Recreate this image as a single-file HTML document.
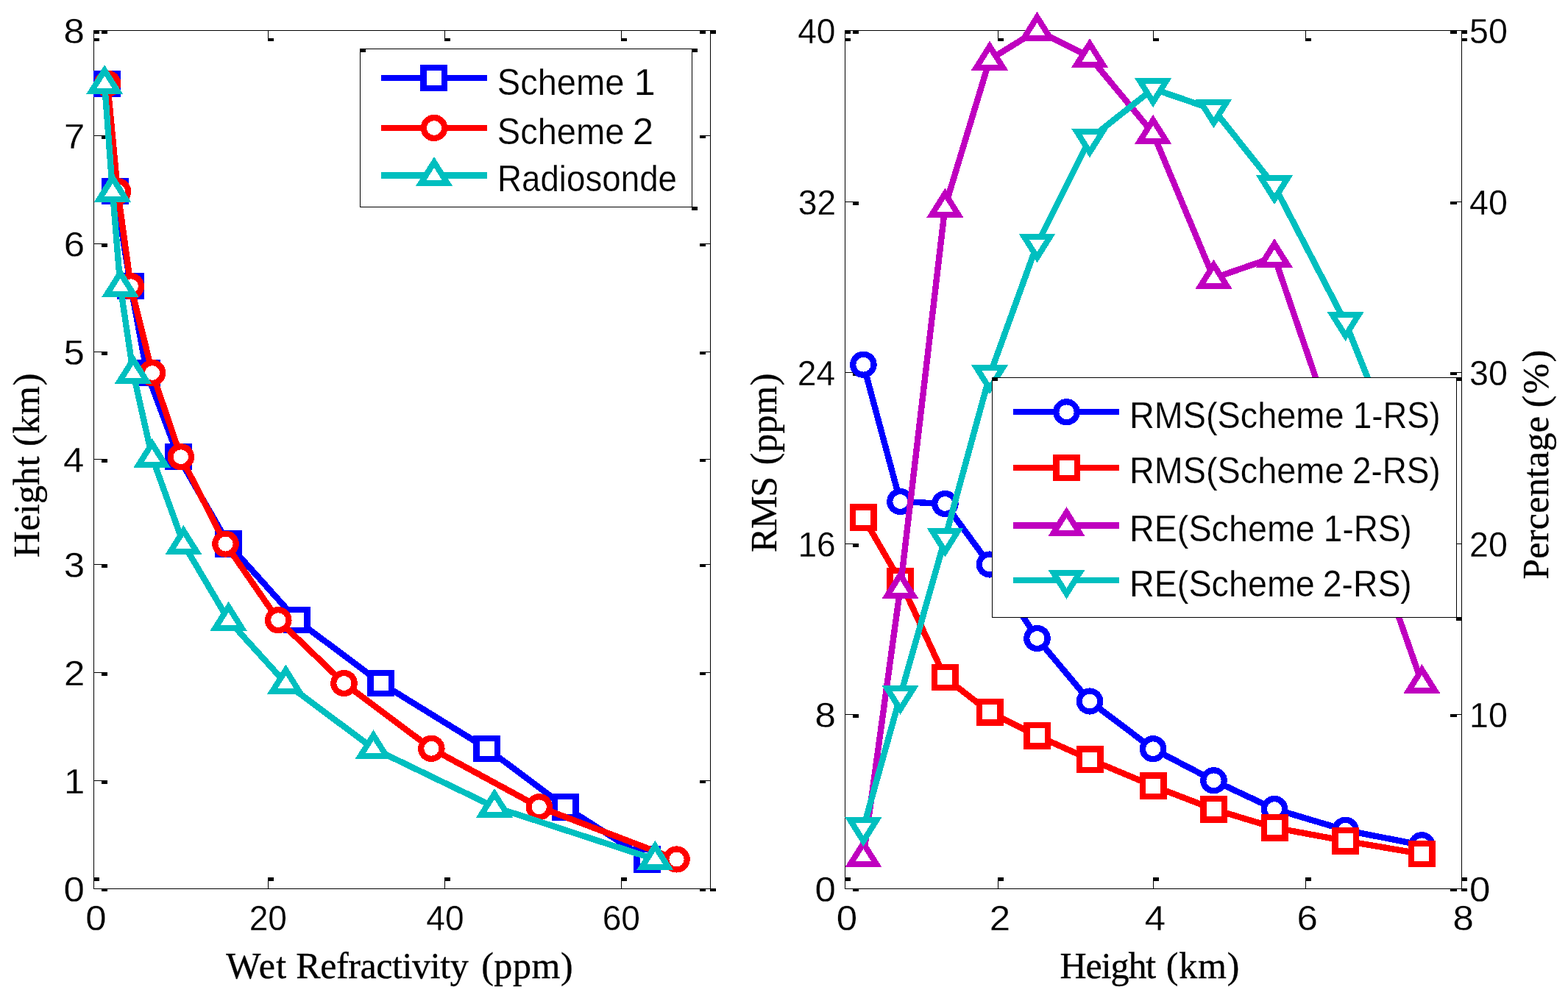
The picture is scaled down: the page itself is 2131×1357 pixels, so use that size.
<!DOCTYPE html>
<html lang="en">
<head>
<meta charset="utf-8">
<title>Wet refractivity profiles and RMS / relative error versus height</title>
<style>
html,body{margin:0;padding:0;background:#fff;}
body{width:2131px;height:1357px;overflow:hidden;}
svg{display:block;}
text{fill:#000;white-space:pre;}
text.s{font-family:"Liberation Sans",Arial,Helvetica,sans-serif;stroke:#fff;stroke-width:0.25px;}
text.r{font-family:"Liberation Serif","Times New Roman",Times,serif;stroke:#000;stroke-width:0.35px;}
</style>
</head>
<body>
<svg width="2131" height="1357" viewBox="0 0 2131 1357" shape-rendering="crispEdges" role="img" aria-label="Two charts: wet refractivity versus height, and RMS and relative error versus height">
<rect x="0" y="0" width="2131" height="1357" fill="#fff"/>
<g id="left-plot">
<g class="axes">
<rect x="127" y="41" width="839" height="1" fill="#000"/>
<rect x="127" y="1208" width="839" height="1" fill="#000"/>
<rect x="127" y="41" width="1" height="1168" fill="#000"/>
<rect x="965" y="41" width="1" height="1168" fill="#000"/>
<rect x="128" y="41" width="10" height="1" fill="#000"/>
<rect x="138" y="41" width="8" height="4.8" fill="#000"/>
<rect x="958" y="41" width="7" height="1" fill="#000"/>
<rect x="951" y="41" width="8" height="5" fill="#000"/>
<rect x="128" y="184" width="10" height="1" fill="#000"/>
<rect x="138" y="184" width="8" height="4.8" fill="#000"/>
<rect x="958" y="184" width="7" height="1" fill="#000"/>
<rect x="951" y="184" width="8" height="4" fill="#000"/>
<rect x="128" y="331" width="10" height="1" fill="#000"/>
<rect x="138" y="331" width="8" height="4.8" fill="#000"/>
<rect x="958" y="331" width="7" height="1" fill="#000"/>
<rect x="951" y="331" width="8" height="4" fill="#000"/>
<rect x="128" y="478" width="10" height="1" fill="#000"/>
<rect x="138" y="478" width="8" height="4.8" fill="#000"/>
<rect x="958" y="478" width="7" height="1" fill="#000"/>
<rect x="951" y="478" width="8" height="4" fill="#000"/>
<rect x="128" y="624" width="10" height="1" fill="#000"/>
<rect x="138" y="624" width="8" height="4.8" fill="#000"/>
<rect x="958" y="624" width="7" height="1" fill="#000"/>
<rect x="951" y="624" width="8" height="4" fill="#000"/>
<rect x="128" y="767" width="10" height="1" fill="#000"/>
<rect x="138" y="767" width="8" height="4.8" fill="#000"/>
<rect x="958" y="767" width="7" height="1" fill="#000"/>
<rect x="951" y="767" width="8" height="4" fill="#000"/>
<rect x="128" y="914" width="10" height="1" fill="#000"/>
<rect x="138" y="914" width="8" height="4.8" fill="#000"/>
<rect x="958" y="914" width="7" height="1" fill="#000"/>
<rect x="951" y="914" width="8" height="4" fill="#000"/>
<rect x="128" y="1061" width="10" height="1" fill="#000"/>
<rect x="138" y="1061" width="8" height="4.8" fill="#000"/>
<rect x="958" y="1061" width="7" height="1" fill="#000"/>
<rect x="951" y="1061" width="8" height="4" fill="#000"/>
<rect x="128" y="1208" width="10" height="1" fill="#000"/>
<rect x="138" y="1208" width="8" height="4" fill="#000"/>
<rect x="958" y="1208" width="7" height="1" fill="#000"/>
<rect x="951" y="1208" width="8" height="4" fill="#000"/>
<rect x="127" y="1197.5" width="1" height="10.5" fill="#000"/>
<rect x="127" y="1193" width="8" height="4.6" fill="#000"/>
<rect x="127" y="42" width="1" height="10.5" fill="#000"/>
<rect x="127" y="52" width="8" height="3.8" fill="#000"/>
<rect x="364" y="1197.5" width="1" height="10.5" fill="#000"/>
<rect x="364" y="1193" width="8" height="4.6" fill="#000"/>
<rect x="364" y="42" width="1" height="10.5" fill="#000"/>
<rect x="364" y="52" width="8" height="3.8" fill="#000"/>
<rect x="604" y="1197.5" width="1" height="10.5" fill="#000"/>
<rect x="604" y="1193" width="8" height="4.6" fill="#000"/>
<rect x="604" y="42" width="1" height="10.5" fill="#000"/>
<rect x="604" y="52" width="8" height="3.8" fill="#000"/>
<rect x="844" y="1197.5" width="1" height="10.5" fill="#000"/>
<rect x="844" y="1193" width="8" height="4.6" fill="#000"/>
<rect x="844" y="42" width="1" height="10.5" fill="#000"/>
<rect x="844" y="52" width="8" height="3.8" fill="#000"/>
<rect x="127" y="41" width="8" height="5" fill="#000"/>
<rect x="965" y="41" width="8" height="5" fill="#000"/>
<rect x="965" y="1208" width="8" height="4" fill="#000"/>
</g>
<g class="series" aria-label="Scheme 1">
<polyline points="145.5,113.7 156.5,260.1 177.8,389.2 199.6,507 242.5,621.2 310.4,739.6 403.4,843.2 517.9,929 661.8,1017.8 768.3,1097.3 879.5,1168.5" fill="none" stroke="#0000ff" stroke-width="8.4" stroke-linejoin="round"/>
<rect x="127" y="95.5" width="37" height="36.4" fill="#0000ff"/><rect x="135.5" y="103.7" width="20" height="20" fill="#fff"/>
<rect x="138" y="241.9" width="37" height="36.4" fill="#0000ff"/><rect x="146.5" y="250.1" width="20" height="20" fill="#fff"/>
<rect x="159.3" y="371" width="37" height="36.4" fill="#0000ff"/><rect x="167.8" y="379.2" width="20" height="20" fill="#fff"/>
<rect x="181.1" y="488.8" width="37" height="36.4" fill="#0000ff"/><rect x="189.6" y="497" width="20" height="20" fill="#fff"/>
<rect x="224" y="603" width="37" height="36.4" fill="#0000ff"/><rect x="232.5" y="611.2" width="20" height="20" fill="#fff"/>
<rect x="291.9" y="721.4" width="37" height="36.4" fill="#0000ff"/><rect x="300.4" y="729.6" width="20" height="20" fill="#fff"/>
<rect x="384.9" y="825" width="37" height="36.4" fill="#0000ff"/><rect x="393.4" y="833.2" width="20" height="20" fill="#fff"/>
<rect x="499.4" y="910.8" width="37" height="36.4" fill="#0000ff"/><rect x="507.9" y="919" width="20" height="20" fill="#fff"/>
<rect x="643.3" y="999.6" width="37" height="36.4" fill="#0000ff"/><rect x="651.8" y="1007.8" width="20" height="20" fill="#fff"/>
<rect x="749.8" y="1079.1" width="37" height="36.4" fill="#0000ff"/><rect x="758.3" y="1087.3" width="20" height="20" fill="#fff"/>
<rect x="861" y="1150.3" width="37" height="36.4" fill="#0000ff"/><rect x="869.5" y="1158.5" width="20" height="20" fill="#fff"/>
</g>
<g class="series" aria-label="Scheme 2">
<polyline points="146.1,113.7 160,260.1 177.8,389.2 207,507 245.8,621.2 306.5,739.6 378.25,843.2 467.5,929 586.3,1017.8 732.8,1097.3 919.5,1168.5" fill="none" stroke="#ff0000" stroke-width="8.4" stroke-linejoin="round"/>
<ellipse cx="146.1" cy="113.7" rx="14.2" ry="14" fill="#fff" stroke="#ff0000" stroke-width="8.2"/>
<ellipse cx="160" cy="260.1" rx="14.2" ry="14" fill="#fff" stroke="#ff0000" stroke-width="8.2"/>
<ellipse cx="177.8" cy="389.2" rx="14.2" ry="14" fill="#fff" stroke="#ff0000" stroke-width="8.2"/>
<ellipse cx="207" cy="507" rx="14.2" ry="14" fill="#fff" stroke="#ff0000" stroke-width="8.2"/>
<ellipse cx="245.8" cy="621.2" rx="14.2" ry="14" fill="#fff" stroke="#ff0000" stroke-width="8.2"/>
<ellipse cx="306.5" cy="739.6" rx="14.2" ry="14" fill="#fff" stroke="#ff0000" stroke-width="8.2"/>
<ellipse cx="378.25" cy="843.2" rx="14.2" ry="14" fill="#fff" stroke="#ff0000" stroke-width="8.2"/>
<ellipse cx="467.5" cy="929" rx="14.2" ry="14" fill="#fff" stroke="#ff0000" stroke-width="8.2"/>
<ellipse cx="586.3" cy="1017.8" rx="14.2" ry="14" fill="#fff" stroke="#ff0000" stroke-width="8.2"/>
<ellipse cx="732.8" cy="1097.3" rx="14.2" ry="14" fill="#fff" stroke="#ff0000" stroke-width="8.2"/>
<ellipse cx="919.5" cy="1168.5" rx="14.2" ry="14" fill="#fff" stroke="#ff0000" stroke-width="8.2"/>
</g>
<g class="series" aria-label="Radiosonde">
<polyline points="142.1,113.7 153,260.1 163.5,389.2 181,507 206.6,621.2 249.4,739.6 310.6,843.2 388.4,929 507.5,1017.8 672,1097.3 890.3,1168.5" fill="none" stroke="#00bfbf" stroke-width="8.4" stroke-linejoin="round"/>
<polygon points="142.1,95.7 160,124.2 124.2,124.2" fill="#fff" stroke="#00bfbf" stroke-width="8.0" stroke-miterlimit="10"/>
<polygon points="153,242.1 170.9,270.6 135.1,270.6" fill="#fff" stroke="#00bfbf" stroke-width="8.0" stroke-miterlimit="10"/>
<polygon points="163.5,371.2 181.4,399.7 145.6,399.7" fill="#fff" stroke="#00bfbf" stroke-width="8.0" stroke-miterlimit="10"/>
<polygon points="181,489 198.9,517.5 163.1,517.5" fill="#fff" stroke="#00bfbf" stroke-width="8.0" stroke-miterlimit="10"/>
<polygon points="206.6,603.2 224.5,631.7 188.7,631.7" fill="#fff" stroke="#00bfbf" stroke-width="8.0" stroke-miterlimit="10"/>
<polygon points="249.4,721.6 267.3,750.1 231.5,750.1" fill="#fff" stroke="#00bfbf" stroke-width="8.0" stroke-miterlimit="10"/>
<polygon points="310.6,825.2 328.5,853.7 292.7,853.7" fill="#fff" stroke="#00bfbf" stroke-width="8.0" stroke-miterlimit="10"/>
<polygon points="388.4,911 406.3,939.5 370.5,939.5" fill="#fff" stroke="#00bfbf" stroke-width="8.0" stroke-miterlimit="10"/>
<polygon points="507.5,999.8 525.4,1028.3 489.6,1028.3" fill="#fff" stroke="#00bfbf" stroke-width="8.0" stroke-miterlimit="10"/>
<polygon points="672,1079.3 689.9,1107.8 654.1,1107.8" fill="#fff" stroke="#00bfbf" stroke-width="8.0" stroke-miterlimit="10"/>
<polygon points="890.3,1150.5 908.2,1179 872.4,1179" fill="#fff" stroke="#00bfbf" stroke-width="8.0" stroke-miterlimit="10"/>
</g>
<g class="ticklabels">
<text class="s" font-size="48.6" transform="translate(86.52 59.3) scale(1.0500 1)">8</text>
<text class="s" font-size="48.6" transform="translate(87.03 202.3) scale(1.0500 1)">7</text>
<text class="s" font-size="48.6" transform="translate(86.77 349.3) scale(1.0500 1)">6</text>
<text class="s" font-size="48.6" transform="translate(86.52 496.3) scale(1.0500 1)">5</text>
<text class="s" font-size="48.6" transform="translate(86.01 642.3) scale(1.0500 1)">4</text>
<text class="s" font-size="48.6" transform="translate(86.77 785.3) scale(1.0500 1)">3</text>
<text class="s" font-size="48.6" transform="translate(87.03 932.3) scale(1.0500 1)">2</text>
<text class="s" font-size="48.6" transform="translate(87.03 1079.3) scale(1.0500 1)">1</text>
<text class="s" font-size="48.6" transform="translate(86.52 1226.3) scale(1.0500 1)">0</text>
<text class="s" font-size="48.6" transform="translate(116.34 1265.3) scale(1.0500 1)">0</text>
<text class="s" font-size="48.6" transform="translate(338.63 1265.3) scale(0.9500 1)">20</text>
<text class="s" font-size="48.6" transform="translate(579.21 1265.3) scale(0.9500 1)">40</text>
<text class="s" font-size="48.6" transform="translate(818.63 1265.3) scale(0.9500 1)">60</text>
</g>
<text class="r" font-size="50" y="1330.4"><tspan x="307.3" textLength="81.78" lengthAdjust="spacing">Wet</tspan> <tspan x="402.3" textLength="234.4" lengthAdjust="spacing">Refractivity</tspan> <tspan x="654.15" textLength="124.45" lengthAdjust="spacing">(ppm)</tspan></text>
<text class="r" font-size="50" y="0" transform="translate(52.5 0) rotate(-90)"><tspan x="-758.3" textLength="137.84" lengthAdjust="spacing">Height</tspan> <tspan x="-606.95" textLength="99.25" lengthAdjust="spacing">(km)</tspan></text>
<g class="legend">
<rect x="489" y="66" width="452" height="216" fill="#000"/>
<rect x="490" y="67" width="450" height="214" fill="#fff"/>
<polyline points="518,106 662,106" fill="none" stroke="#0000ff" stroke-width="8.4" stroke-linejoin="round"/>
<rect x="571" y="87.8" width="37" height="36.4" fill="#0000ff"/><rect x="579.5" y="96" width="20" height="20" fill="#fff"/>
<text class="s" font-size="50" y="128.5"><tspan x="675.78" textLength="172.68" lengthAdjust="spacingAndGlyphs">Scheme</tspan> <tspan x="861.56" textLength="29.2" lengthAdjust="spacingAndGlyphs">1</tspan></text>
<polyline points="518,174 662,174" fill="none" stroke="#ff0000" stroke-width="8.4" stroke-linejoin="round"/>
<ellipse cx="590" cy="174" rx="14.2" ry="14" fill="#fff" stroke="#ff0000" stroke-width="8.2"/>
<text class="s" font-size="50" y="195.7"><tspan x="675.78" textLength="172.68" lengthAdjust="spacingAndGlyphs">Scheme</tspan> <tspan x="859.65" textLength="28.36" lengthAdjust="spacingAndGlyphs">2</tspan></text>
<polyline points="518,238.5 662,238.5" fill="none" stroke="#00bfbf" stroke-width="8.4" stroke-linejoin="round"/>
<polygon points="590,220.5 607.9,249 572.1,249" fill="#fff" stroke="#00bfbf" stroke-width="8.0" stroke-miterlimit="10"/>
<text class="s" font-size="50" y="259.6"><tspan x="675.94" textLength="244.1" lengthAdjust="spacingAndGlyphs">Radiosonde</tspan></text>
<rect x="489" y="66" width="8" height="4.5" fill="#000"/>
<rect x="940" y="66" width="8" height="4.5" fill="#000"/>
<rect x="940" y="281" width="8" height="4.8" fill="#000"/>
</g>
</g>
<g id="right-plot">
<g class="axes">
<rect x="1148" y="41" width="839" height="1" fill="#000"/>
<rect x="1148" y="1208" width="839" height="1" fill="#000"/>
<rect x="1148" y="41" width="1" height="1168" fill="#000"/>
<rect x="1986" y="41" width="1" height="1168" fill="#000"/>
<rect x="1149" y="41" width="10" height="1" fill="#000"/>
<rect x="1159" y="41" width="8" height="4.8" fill="#000"/>
<rect x="1979" y="41" width="7" height="1" fill="#000"/>
<rect x="1971" y="41" width="9" height="5" fill="#000"/>
<rect x="1149" y="274" width="10" height="1" fill="#000"/>
<rect x="1159" y="274" width="8" height="4.8" fill="#000"/>
<rect x="1979" y="274" width="7" height="1" fill="#000"/>
<rect x="1971" y="274" width="9" height="4" fill="#000"/>
<rect x="1149" y="506" width="10" height="1" fill="#000"/>
<rect x="1159" y="506" width="8" height="4.8" fill="#000"/>
<rect x="1979" y="506" width="7" height="1" fill="#000"/>
<rect x="1971" y="506" width="9" height="4" fill="#000"/>
<rect x="1149" y="739" width="10" height="1" fill="#000"/>
<rect x="1159" y="739" width="8" height="4.8" fill="#000"/>
<rect x="1979" y="739" width="7" height="1" fill="#000"/>
<rect x="1971" y="739" width="9" height="4" fill="#000"/>
<rect x="1149" y="971" width="10" height="1" fill="#000"/>
<rect x="1159" y="971" width="8" height="4.8" fill="#000"/>
<rect x="1979" y="971" width="7" height="1" fill="#000"/>
<rect x="1971" y="971" width="9" height="4" fill="#000"/>
<rect x="1149" y="1208" width="10" height="1" fill="#000"/>
<rect x="1159" y="1208" width="8" height="4" fill="#000"/>
<rect x="1979" y="1208" width="7" height="1" fill="#000"/>
<rect x="1971" y="1208" width="9" height="4" fill="#000"/>
<rect x="1148" y="1197.5" width="1" height="10.5" fill="#000"/>
<rect x="1148" y="1193" width="8" height="4.6" fill="#000"/>
<rect x="1148" y="42" width="1" height="10.5" fill="#000"/>
<rect x="1148" y="52" width="8" height="3.8" fill="#000"/>
<rect x="1356" y="1197.5" width="1" height="10.5" fill="#000"/>
<rect x="1356" y="1193" width="8" height="4.6" fill="#000"/>
<rect x="1356" y="42" width="1" height="10.5" fill="#000"/>
<rect x="1356" y="52" width="8" height="3.8" fill="#000"/>
<rect x="1567" y="1197.5" width="1" height="10.5" fill="#000"/>
<rect x="1567" y="1193" width="8" height="4.6" fill="#000"/>
<rect x="1567" y="42" width="1" height="10.5" fill="#000"/>
<rect x="1567" y="52" width="8" height="3.8" fill="#000"/>
<rect x="1774" y="1197.5" width="1" height="10.5" fill="#000"/>
<rect x="1774" y="1193" width="8" height="4.6" fill="#000"/>
<rect x="1774" y="42" width="1" height="10.5" fill="#000"/>
<rect x="1774" y="52" width="8" height="3.8" fill="#000"/>
<rect x="1986" y="1197.5" width="1" height="10.5" fill="#000"/>
<rect x="1986" y="1193" width="8" height="4.6" fill="#000"/>
<rect x="1986" y="42" width="1" height="10.5" fill="#000"/>
<rect x="1986" y="52" width="8" height="3.8" fill="#000"/>
<rect x="1148" y="41" width="8" height="5" fill="#000"/>
<rect x="1986" y="41" width="8" height="5" fill="#000"/>
<rect x="1986" y="1208" width="8" height="4" fill="#000"/>
</g>
<g class="series" aria-label="RMS(Scheme 1-RS)">
<polyline points="1173.4,495.75 1223.5,682 1284.4,685 1345,767.5 1409.5,868 1481,953.5 1567.1,1018.25 1649.5,1061.25 1732,1100 1828.6,1128.75 1932.4,1149.25" fill="none" stroke="#0000ff" stroke-width="8.4" stroke-linejoin="round"/>
<ellipse cx="1173.4" cy="495.75" rx="14.2" ry="14" fill="#fff" stroke="#0000ff" stroke-width="8.2"/>
<ellipse cx="1223.5" cy="682" rx="14.2" ry="14" fill="#fff" stroke="#0000ff" stroke-width="8.2"/>
<ellipse cx="1284.4" cy="685" rx="14.2" ry="14" fill="#fff" stroke="#0000ff" stroke-width="8.2"/>
<ellipse cx="1345" cy="767.5" rx="14.2" ry="14" fill="#fff" stroke="#0000ff" stroke-width="8.2"/>
<ellipse cx="1409.5" cy="868" rx="14.2" ry="14" fill="#fff" stroke="#0000ff" stroke-width="8.2"/>
<ellipse cx="1481" cy="953.5" rx="14.2" ry="14" fill="#fff" stroke="#0000ff" stroke-width="8.2"/>
<ellipse cx="1567.1" cy="1018.25" rx="14.2" ry="14" fill="#fff" stroke="#0000ff" stroke-width="8.2"/>
<ellipse cx="1649.5" cy="1061.25" rx="14.2" ry="14" fill="#fff" stroke="#0000ff" stroke-width="8.2"/>
<ellipse cx="1732" cy="1100" rx="14.2" ry="14" fill="#fff" stroke="#0000ff" stroke-width="8.2"/>
<ellipse cx="1828.6" cy="1128.75" rx="14.2" ry="14" fill="#fff" stroke="#0000ff" stroke-width="8.2"/>
<ellipse cx="1932.4" cy="1149.25" rx="14.2" ry="14" fill="#fff" stroke="#0000ff" stroke-width="8.2"/>
</g>
<g class="series" aria-label="RMS(Scheme 2-RS)">
<polyline points="1173.4,703.6 1223.5,790 1284.4,921.25 1345,968.4 1409.5,1000.4 1481,1032.5 1567.1,1068.6 1649.5,1100.4 1732,1125.4 1828.6,1143.4 1932.4,1161.1" fill="none" stroke="#ff0000" stroke-width="8.4" stroke-linejoin="round"/>
<rect x="1154.9" y="685.4" width="37" height="36.4" fill="#ff0000"/><rect x="1163.4" y="693.6" width="20" height="20" fill="#fff"/>
<rect x="1205" y="771.8" width="37" height="36.4" fill="#ff0000"/><rect x="1213.5" y="780" width="20" height="20" fill="#fff"/>
<rect x="1265.9" y="903.05" width="37" height="36.4" fill="#ff0000"/><rect x="1274.4" y="911.25" width="20" height="20" fill="#fff"/>
<rect x="1326.5" y="950.2" width="37" height="36.4" fill="#ff0000"/><rect x="1335" y="958.4" width="20" height="20" fill="#fff"/>
<rect x="1391" y="982.2" width="37" height="36.4" fill="#ff0000"/><rect x="1399.5" y="990.4" width="20" height="20" fill="#fff"/>
<rect x="1462.5" y="1014.3" width="37" height="36.4" fill="#ff0000"/><rect x="1471" y="1022.5" width="20" height="20" fill="#fff"/>
<rect x="1548.6" y="1050.4" width="37" height="36.4" fill="#ff0000"/><rect x="1557.1" y="1058.6" width="20" height="20" fill="#fff"/>
<rect x="1631" y="1082.2" width="37" height="36.4" fill="#ff0000"/><rect x="1639.5" y="1090.4" width="20" height="20" fill="#fff"/>
<rect x="1713.5" y="1107.2" width="37" height="36.4" fill="#ff0000"/><rect x="1722" y="1115.4" width="20" height="20" fill="#fff"/>
<rect x="1810.1" y="1125.2" width="37" height="36.4" fill="#ff0000"/><rect x="1818.6" y="1133.4" width="20" height="20" fill="#fff"/>
<rect x="1913.9" y="1142.9" width="37" height="36.4" fill="#ff0000"/><rect x="1922.4" y="1151.1" width="20" height="20" fill="#fff"/>
</g>
<g class="series" aria-label="RE(Scheme 1-RS)">
<polyline points="1173.4,1164.75 1223.5,799.75 1284.4,281.25 1345,81 1409.5,41.25 1481,77.5 1567.1,181.25 1649.5,378.25 1732,349.5 1828.6,632 1932.4,928.5" fill="none" stroke="#bf00bf" stroke-width="8.4" stroke-linejoin="round"/>
<polygon points="1173.4,1146.75 1191.3,1175.25 1155.5,1175.25" fill="#fff" stroke="#bf00bf" stroke-width="8.0" stroke-miterlimit="10"/>
<polygon points="1223.5,781.75 1241.4,810.25 1205.6,810.25" fill="#fff" stroke="#bf00bf" stroke-width="8.0" stroke-miterlimit="10"/>
<polygon points="1284.4,263.25 1302.3,291.75 1266.5,291.75" fill="#fff" stroke="#bf00bf" stroke-width="8.0" stroke-miterlimit="10"/>
<polygon points="1345,63 1362.9,91.5 1327.1,91.5" fill="#fff" stroke="#bf00bf" stroke-width="8.0" stroke-miterlimit="10"/>
<polygon points="1409.5,23.25 1427.4,51.75 1391.6,51.75" fill="#fff" stroke="#bf00bf" stroke-width="8.0" stroke-miterlimit="10"/>
<polygon points="1481,59.5 1498.9,88 1463.1,88" fill="#fff" stroke="#bf00bf" stroke-width="8.0" stroke-miterlimit="10"/>
<polygon points="1567.1,163.25 1585,191.75 1549.2,191.75" fill="#fff" stroke="#bf00bf" stroke-width="8.0" stroke-miterlimit="10"/>
<polygon points="1649.5,360.25 1667.4,388.75 1631.6,388.75" fill="#fff" stroke="#bf00bf" stroke-width="8.0" stroke-miterlimit="10"/>
<polygon points="1732,331.5 1749.9,360 1714.1,360" fill="#fff" stroke="#bf00bf" stroke-width="8.0" stroke-miterlimit="10"/>
<polygon points="1828.6,614 1846.5,642.5 1810.7,642.5" fill="#fff" stroke="#bf00bf" stroke-width="8.0" stroke-miterlimit="10"/>
<polygon points="1932.4,910.5 1950.3,939 1914.5,939" fill="#fff" stroke="#bf00bf" stroke-width="8.0" stroke-miterlimit="10"/>
</g>
<g class="series" aria-label="RE(Scheme 2-RS)">
<polyline points="1173.4,1125.75 1223.5,946.5 1284.4,732 1345,510.5 1409.5,332 1481,189 1567.1,120.75 1649.5,149 1732,252.75 1828.6,438.5 1932.4,698" fill="none" stroke="#00bfbf" stroke-width="8.4" stroke-linejoin="round"/>
<polygon points="1173.4,1143.75 1191.3,1115.25 1155.5,1115.25" fill="#fff" stroke="#00bfbf" stroke-width="8.0" stroke-miterlimit="10"/>
<polygon points="1223.5,964.5 1241.4,936 1205.6,936" fill="#fff" stroke="#00bfbf" stroke-width="8.0" stroke-miterlimit="10"/>
<polygon points="1284.4,750 1302.3,721.5 1266.5,721.5" fill="#fff" stroke="#00bfbf" stroke-width="8.0" stroke-miterlimit="10"/>
<polygon points="1345,528.5 1362.9,500 1327.1,500" fill="#fff" stroke="#00bfbf" stroke-width="8.0" stroke-miterlimit="10"/>
<polygon points="1409.5,350 1427.4,321.5 1391.6,321.5" fill="#fff" stroke="#00bfbf" stroke-width="8.0" stroke-miterlimit="10"/>
<polygon points="1481,207 1498.9,178.5 1463.1,178.5" fill="#fff" stroke="#00bfbf" stroke-width="8.0" stroke-miterlimit="10"/>
<polygon points="1567.1,138.75 1585,110.25 1549.2,110.25" fill="#fff" stroke="#00bfbf" stroke-width="8.0" stroke-miterlimit="10"/>
<polygon points="1649.5,167 1667.4,138.5 1631.6,138.5" fill="#fff" stroke="#00bfbf" stroke-width="8.0" stroke-miterlimit="10"/>
<polygon points="1732,270.75 1749.9,242.25 1714.1,242.25" fill="#fff" stroke="#00bfbf" stroke-width="8.0" stroke-miterlimit="10"/>
<polygon points="1828.6,456.5 1846.5,428 1810.7,428" fill="#fff" stroke="#00bfbf" stroke-width="8.0" stroke-miterlimit="10"/>
<polygon points="1932.4,716 1950.3,687.5 1914.5,687.5" fill="#fff" stroke="#00bfbf" stroke-width="8.0" stroke-miterlimit="10"/>
</g>
<g class="ticklabels">
<text class="s" font-size="48.6" transform="translate(1084.17 59.1) scale(0.9500 1)">40</text>
<text class="s" font-size="48.6" transform="translate(1996.94 59.1) scale(0.9600 1)">50</text>
<text class="s" font-size="48.6" transform="translate(1084.86 292.1) scale(0.9500 1)">32</text>
<text class="s" font-size="48.6" transform="translate(1996.94 292.1) scale(0.9600 1)">40</text>
<text class="s" font-size="48.6" transform="translate(1083.71 524.1) scale(0.9500 1)">24</text>
<text class="s" font-size="48.6" transform="translate(1996.94 524.1) scale(0.9600 1)">30</text>
<text class="s" font-size="48.6" transform="translate(1084.4 757.1) scale(0.9500 1)">16</text>
<text class="s" font-size="48.6" transform="translate(1996.94 757.1) scale(0.9600 1)">20</text>
<text class="s" font-size="48.6" transform="translate(1107.52 989.1) scale(1.0500 1)">8</text>
<text class="s" font-size="48.6" transform="translate(1996.94 989.1) scale(0.9600 1)">10</text>
<text class="s" font-size="48.6" transform="translate(1107.52 1226.1) scale(1.0500 1)">0</text>
<text class="s" font-size="48.6" transform="translate(1996.96 1226.1) scale(1.0500 1)">0</text>
<text class="s" font-size="48.6" transform="translate(1136.64 1265.3) scale(1.0500 1)">0</text>
<text class="s" font-size="48.6" transform="translate(1344.64 1265.3) scale(1.0500 1)">2</text>
<text class="s" font-size="48.6" transform="translate(1555.77 1265.3) scale(1.0500 1)">4</text>
<text class="s" font-size="48.6" transform="translate(1762.51 1265.3) scale(1.0500 1)">6</text>
<text class="s" font-size="48.6" transform="translate(1974.51 1265.3) scale(1.0500 1)">8</text>
</g>
<text class="r" font-size="50" y="1329.8"><tspan x="1440.5" textLength="130.74" lengthAdjust="spacing">Height</tspan> <tspan x="1584.85" textLength="99.45" lengthAdjust="spacing">(km)</tspan></text>
<text class="r" font-size="50" y="0" transform="translate(1054.6 0) rotate(-90)"><tspan x="-751" textLength="103.12" lengthAdjust="spacing">RMS</tspan> <tspan x="-632.35" textLength="124.65" lengthAdjust="spacing">(ppm)</tspan></text>
<text class="r" font-size="50" y="0" transform="translate(2103.8 0) rotate(-90)"><tspan x="-787.7" textLength="221.71" lengthAdjust="spacing">Percentage</tspan> <tspan x="-554.15" textLength="78.35" lengthAdjust="spacing">(%)</tspan></text>
<g class="legend">
<rect x="1348" y="513" width="632" height="327" fill="#000"/>
<rect x="1349" y="514" width="630" height="325" fill="#fff"/>
<polyline points="1377,560.25 1520.75,560.25" fill="none" stroke="#0000ff" stroke-width="8.4" stroke-linejoin="round"/>
<ellipse cx="1449.5" cy="560.25" rx="14.2" ry="14" fill="#fff" stroke="#0000ff" stroke-width="8.2"/>
<text class="s" font-size="50" y="581.7"><tspan x="1534.95" textLength="291.5" lengthAdjust="spacingAndGlyphs">RMS(Scheme</tspan> <tspan x="1838.99" textLength="118.71" lengthAdjust="spacingAndGlyphs">1-RS)</tspan></text>
<polyline points="1377,635.75 1520.75,635.75" fill="none" stroke="#ff0000" stroke-width="8.4" stroke-linejoin="round"/>
<rect x="1431" y="617.55" width="37" height="36.4" fill="#ff0000"/><rect x="1439.5" y="625.75" width="20" height="20" fill="#fff"/>
<text class="s" font-size="50" y="656.7"><tspan x="1534.95" textLength="291.5" lengthAdjust="spacingAndGlyphs">RMS(Scheme</tspan> <tspan x="1837.91" textLength="119.82" lengthAdjust="spacingAndGlyphs">2-RS)</tspan></text>
<polyline points="1377,714.5 1520.75,714.5" fill="none" stroke="#bf00bf" stroke-width="8.4" stroke-linejoin="round"/>
<polygon points="1449.5,696.5 1467.4,725 1431.6,725" fill="#fff" stroke="#bf00bf" stroke-width="8.0" stroke-miterlimit="10"/>
<text class="s" font-size="50" y="735.9"><tspan x="1534.96" textLength="251.87" lengthAdjust="spacingAndGlyphs">RE(Scheme</tspan> <tspan x="1798.86" textLength="119.87" lengthAdjust="spacingAndGlyphs">1-RS)</tspan></text>
<polyline points="1377,789.25 1520.75,789.25" fill="none" stroke="#00bfbf" stroke-width="8.4" stroke-linejoin="round"/>
<polygon points="1449.5,807.25 1467.4,778.75 1431.6,778.75" fill="#fff" stroke="#00bfbf" stroke-width="8.0" stroke-miterlimit="10"/>
<text class="s" font-size="50" y="811.3"><tspan x="1534.96" textLength="251.87" lengthAdjust="spacingAndGlyphs">RE(Scheme</tspan> <tspan x="1797.78" textLength="120.97" lengthAdjust="spacingAndGlyphs">2-RS)</tspan></text>
<rect x="1348" y="513" width="8" height="4.5" fill="#000"/>
<rect x="1979" y="513" width="8" height="4.5" fill="#000"/>
<rect x="1979" y="839" width="8" height="4.8" fill="#000"/>
</g>
</g>
</svg>
</body>
</html>
